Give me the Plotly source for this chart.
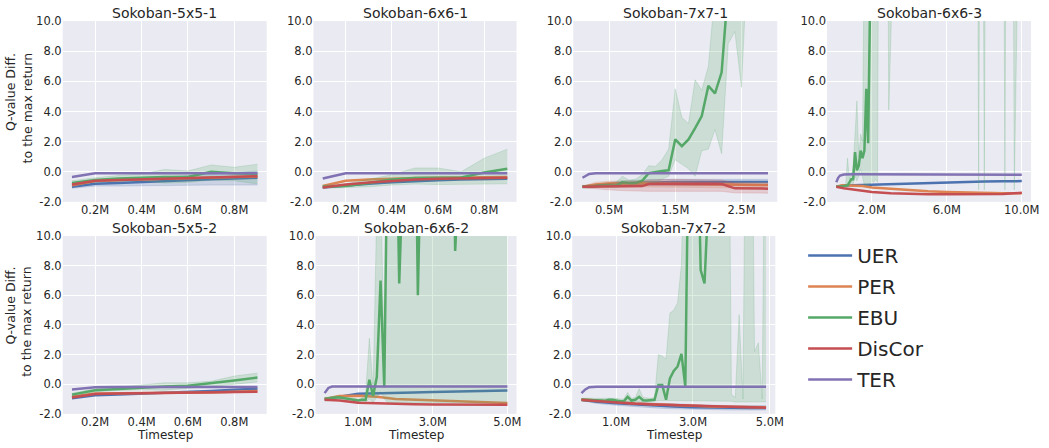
import plotly.graph_objects as go

# ---------------- data (x in millions of timesteps) ----------------
TITLES = ["Sokoban-5x5-1", "Sokoban-6x6-1", "Sokoban-7x7-1", "Sokoban-6x6-3",
          "Sokoban-5x5-2", "Sokoban-6x6-2", "Sokoban-7x7-2"]
SERIES = ["UER", "PER", "EBU", "DisCor", "TER"]

Y_TICKS = [-2, 0, 2, 4, 6, 8, 10]
Y_TICK_LABELS = ["-2.0", "0.0", "2.0", "4.0", "6.0", "8.0", "10.0"]
XT_1M = [0.2, 0.4, 0.6, 0.8]
XT_1M_LABELS = ["0.2M", "0.4M", "0.6M", "0.8M"]
XT_3M = [0.5, 1.5, 2.5]
XT_3M_LABELS = ["0.5M", "1.5M", "2.5M"]
XT_10M = [2, 6, 10]
XT_10M_LABELS = ["2.0M", "6.0M", "10.0M"]
XT_5M = [1, 3, 5]
XT_5M_LABELS = ["1.0M", "3.0M", "5.0M"]

# Sokoban-5x5-1
S1_X = [0.1, 0.2, 0.3, 0.4, 0.5, 0.6, 0.7, 0.8, 0.9]
S1_UER = [-1.0, -0.8, -0.75, -0.68, -0.62, -0.56, -0.5, -0.45, -0.4]
S1_UER_LO = [-1.1, -0.95, -0.95, -0.92, -0.9, -0.9, -0.88, -0.88, -0.88]
S1_UER_HI = [-0.9, -0.65, -0.55, -0.45, -0.35, -0.25, -0.15, -0.05, 0.05]
S1_PER = [-0.9, -0.62, -0.55, -0.5, -0.45, -0.42, -0.38, -0.35, -0.32]
S1_EBU = [-0.75, -0.55, -0.45, -0.38, -0.35, -0.35, 0.0, -0.1, -0.15]
S1_EBU_LO = [-0.9, -0.7, -0.65, -0.6, -0.75, -0.7, -0.55, -0.6, -0.8]
S1_EBU_HI = [-0.6, -0.4, -0.25, -0.15, 0.15, 0.05, 0.45, 0.3, 0.5]
S1_DIS = [-0.85, -0.6, -0.55, -0.5, -0.46, -0.42, -0.38, -0.33, -0.3]
S1_TER = [-0.35, -0.1, -0.1, -0.1, -0.1, -0.1, -0.1, -0.1, -0.1]

# Sokoban-6x6-1
S2_X = [0.1, 0.2, 0.3, 0.4, 0.5, 0.6, 0.7, 0.8, 0.9]
S2_UER = [-1.05, -0.9, -0.8, -0.7, -0.62, -0.56, -0.52, -0.5, -0.46]
S2_PER = [-0.95, -0.6, -0.52, -0.46, -0.42, -0.4, -0.37, -0.36, -0.35]
S2_EBU = [-1.0, -0.95, -0.75, -0.52, -0.42, -0.38, -0.38, -0.05, 0.2]
S2_EBU_LO = [-1.1, -1.05, -1.0, -0.88, -0.82, -0.85, -0.85, -0.82, -0.8]
S2_EBU_HI = [-0.9, -0.82, -0.5, -0.2, 0.25, 0.25, 0.0, 0.9, 1.5]
S2_DIS = [-1.05, -0.85, -0.72, -0.6, -0.52, -0.47, -0.45, -0.44, -0.4]
S2_TER = [-0.45, -0.1, -0.1, -0.1, -0.1, -0.1, -0.1, -0.1, -0.1]

# Sokoban-7x7-1
S3_XC = [0.1, 0.2, 0.3, 0.5, 0.7, 1.0, 1.1, 1.5, 2.0, 2.2, 2.3, 2.4, 2.9]
S3_UER = [-1.0, -0.95, -0.9, -0.82, -0.76, -0.72, -0.7, -0.68, -0.68, -0.68, -0.68, -0.68, -0.68]
S3_UER_LO = [-1.05, -1.05, -1.0, -0.95, -0.9, -0.9, -0.9, -0.9, -0.9, -0.9, -0.9, -0.9, -0.92]
S3_UER_HI = [-0.95, -0.85, -0.8, -0.7, -0.6, -0.55, -0.52, -0.5, -0.5, -0.5, -0.5, -0.5, -0.5]
S3_PER = [-1.0, -0.92, -0.85, -0.78, -0.76, -0.76, -0.78, -0.8, -0.82, -0.84, -0.86, -0.88, -0.88]
S3_PER_LO = [-1.05, -1.1, -1.05, -1.0, -1.0, -1.0, -1.0, -1.02, -1.05, -1.06, -1.08, -1.1, -1.1]
S3_PER_HI = [-0.95, -0.8, -0.7, -0.62, -0.6, -0.6, -0.62, -0.64, -0.66, -0.68, -0.7, -0.72, -0.72]
S3_DIS = [-1.0, -1.0, -0.99, -0.98, -0.97, -0.95, -0.82, -0.8, -0.8, -0.82, -0.95, -1.1, -1.12]
S3_DIS_LO = [-1.05, -1.1, -1.15, -1.2, -1.25, -1.3, -1.3, -1.3, -1.3, -1.3, -1.35, -1.4, -1.42]
S3_DIS_HI = [-0.95, -0.9, -0.85, -0.75, -0.7, -0.65, -0.55, -0.5, -0.5, -0.55, -0.65, -0.8, -0.85]
S3_TER = [-0.4, -0.15, -0.1, -0.1, -0.1, -0.1, -0.1, -0.1, -0.1, -0.1, -0.1, -0.1, -0.1]
S3_EBU_X = [0.1, 0.2, 0.3, 0.4, 0.5, 0.6, 0.7, 0.8, 0.9, 1.0,
            1.1, 1.2, 1.3, 1.4, 1.5, 1.6, 1.7, 1.8, 1.9, 2.0,
            2.1, 2.2, 2.3, 2.4, 2.5, 2.6, 2.7, 2.8, 2.9]
S3_EBU = [-1.0, -1.0, -0.95, -0.9, -0.9, -0.92, -0.7, -0.75, -0.75, -0.6,
          -0.1, 0.0, 0.05, 0.1, 2.15, 1.7, 2.15, 2.9, 3.7, 5.7,
          5.2, 6.6, 14.0, 18.0, 20.0, 22.0, 24.0, 25.0, 26.0]
S3_EBU_LO = [-1.1, -1.1, -1.05, -1.0, -1.05, -1.05, -1.0, -0.95, -0.95, -1.0,
             -0.8, -0.7, -0.5, -0.3, 0.8, 0.5, 0.2, -0.3, 1.4, 1.5,
             2.8, 1.2, 8.5, 9.3, 5.6, 15.0, 20.0, 20.0, 20.0]
S3_EBU_HI = [-0.9, -0.9, -0.85, -0.8, -0.75, -0.75, -0.3, -0.55, -0.5, -0.2,
             0.4, 0.35, 0.8, 1.5, 5.5, 3.6, 3.2, 6.1, 5.4, 7.0,
             12.0, 15.0, 20.0, 25.0, 30.0, 30.0, 30.0, 30.0, 30.0]

# Sokoban-6x6-3
S4_XC = [0.1, 0.2, 0.3, 0.4, 0.5, 1.0, 1.5, 2.0, 3.0, 4.0, 5.0, 6.0, 7.0, 8.0, 9.0, 10.0]
S4_TER = [-0.7, -0.4, -0.25, -0.2, -0.18, -0.17, -0.17, -0.17, -0.18, -0.18, -0.18, -0.19, -0.2, -0.2, -0.2, -0.2]
S4_UER = [-1.0, -0.97, -0.95, -0.93, -0.92, -0.9, -0.88, -0.85, -0.8, -0.76, -0.72, -0.69, -0.67, -0.65, -0.63, -0.62]
S4_PER = [-1.0, -0.95, -0.92, -0.9, -0.9, -0.9, -0.95, -1.05, -1.15, -1.25, -1.3, -1.35, -1.38, -1.4, -1.42, -1.42]
S4_DIS = [-1.0, -1.03, -1.06, -1.09, -1.1, -1.18, -1.28, -1.35, -1.42, -1.47, -1.5, -1.5, -1.5, -1.5, -1.48, -1.4]
S4_EBU_X = [0.1, 0.2, 0.3, 0.4, 0.5, 0.6, 0.7, 0.8, 0.9, 1.0,
            1.1, 1.2, 1.3, 1.4, 1.5, 1.6, 1.7, 1.8, 1.9, 2.0,
            2.5, 3.0, 6.0, 10.0]
S4_EBU = [-1.0, -1.0, -1.0, -0.95, -0.95, -0.92, -0.9, -0.7, -0.5, -0.5,
          1.3, 0.1, 0.4, 1.4, 0.9, 1.4, 5.5, 1.9, 12.0, 20.0,
          25.0, 25.0, 25.0, 25.0]
S4_BAND_X = [0.1, 0.2, 0.3, 0.4, 0.5, 0.6, 0.7, 0.8, 0.9, 1.0,
             1.1, 1.2, 1.3, 1.4, 1.5, 1.6, 1.7, 1.8, 1.9, 2.0,
             2.1, 2.2, 2.3, 2.4, 2.5, 2.6, 2.7, 2.8, 2.9, 3.0,
             3.5, 7.6, 7.7, 7.8, 7.9, 8.0, 8.1, 9.0, 9.1, 9.2, 9.5, 9.6, 9.7, 10.0]
S4_EBU_LO = [-1.05, -1.05, -1.05, -1.0, -1.0, -1.0, -1.0, -0.9, -0.75, -0.8,
             -0.3, -0.6, -0.3, 0.2, -0.3, -0.9, -0.9, -0.85, -0.8, -0.6,
             -0.7, -0.5, -0.7, 30.0, 30.0, 30.0, 30.0, 30.0, 4.1, 30.0,
             30.0, 30.0, -1.2, 30.0, 30.0, -1.2, 30.0, 30.0, -1.2, 30.0, 30.0, -1.2, 30.0, 30.0]
S4_EBU_HI = [-0.95, -0.95, -0.95, -0.9, -0.9, -0.88, 0.9, -0.5, -0.2, 0.2,
             2.5, 4.7, 1.0, 2.5, 2.0, 15.0, 30.0, 30.0, 30.0, 30.0,
             30.0, 30.0, 30.0, 30.0, 30.0, 30.0, 30.0, 30.0, 30.0, 30.0,
             30.0, 30.0, 30.0, 30.0, 30.0, 30.0, 30.0, 30.0, 30.0, 30.0, 30.0, 30.0, 30.0, 30.0]

# Sokoban-5x5-2
S5_X = [0.1, 0.2, 0.3, 0.4, 0.5, 0.6, 0.7, 0.8, 0.9]
S5_UER = [-0.95, -0.75, -0.7, -0.65, -0.6, -0.55, -0.45, -0.38, -0.3]
S5_PER = [-0.85, -0.62, -0.6, -0.6, -0.6, -0.57, -0.55, -0.5, -0.45]
S5_EBU = [-0.7, -0.4, -0.32, -0.22, -0.15, -0.1, 0.05, 0.25, 0.45]
S5_EBU_LO = [-0.8, -0.5, -0.42, -0.38, -0.4, -0.3, -0.15, 0.0, 0.15]
S5_EBU_HI = [-0.6, -0.3, -0.2, -0.05, 0.1, 0.1, 0.2, 0.55, 0.75]
S5_DIS = [-0.9, -0.66, -0.62, -0.6, -0.6, -0.58, -0.55, -0.52, -0.5]
S5_TER = [-0.35, -0.2, -0.18, -0.18, -0.18, -0.18, -0.18, -0.18, -0.18]

# Sokoban-6x6-2
S6_XC = [0.1, 0.2, 0.3, 0.5, 1.0, 1.5, 2.0, 2.5, 3.0, 3.5, 4.0, 4.5, 5.0]
S6_TER = [-0.6, -0.25, -0.15, -0.15, -0.15, -0.15, -0.15, -0.15, -0.15, -0.15, -0.15, -0.15, -0.15]
S6_UER = [-1.0, -0.97, -0.93, -0.85, -0.65, -0.6, -0.6, -0.55, -0.52, -0.5, -0.47, -0.45, -0.42]
S6_PER = [-1.0, -0.95, -0.9, -0.8, -0.78, -0.85, -1.0, -1.05, -1.1, -1.15, -1.2, -1.23, -1.27]
S6_DIS = [-1.05, -1.06, -1.08, -1.1, -1.25, -1.3, -1.35, -1.35, -1.36, -1.37, -1.38, -1.4, -1.38]
S6_EBU_X = [0.1, 0.2, 0.3, 0.4, 0.5, 0.6, 0.7, 0.8, 0.9, 1.0,
            1.1, 1.2, 1.3, 1.4, 1.5, 1.6, 1.7, 1.8, 1.9, 2.0,
            2.1, 2.2, 2.3, 2.4, 2.5, 2.6, 2.7, 2.8, 2.9, 3.0,
            3.1, 3.2, 3.3, 3.4, 3.5, 3.6, 3.7, 3.8, 3.9, 4.0,
            4.1, 4.2, 4.3, 4.4, 4.5, 4.6, 4.7, 4.8, 4.9, 5.0]
S6_EBU = [-1.0, -0.95, -0.95, -0.9, -0.9, -0.95, -1.0, -1.0, -1.05, -1.1,
          -1.05, -1.05, 0.3, -0.8, 0.5, 7.0, -0.2, 20.0, 25.0, 22.0,
          6.8, 25.0, 28.0, 30.0, 26.0, 6.0, 28.0, 30.0, 27.0, 29.0,
          30.0, 28.0, 26.0, 30.0, 27.0, 9.0, 30.0, 28.0, 29.0, 30.0,
          27.0, 30.0, 28.0, 29.0, 26.0, 30.0, 28.0, 27.0, 30.0, 29.0]
S6_EBU_LO = [-1.15, -1.1, -1.1, -1.05, -1.05, -1.1, -1.15, -1.15, -1.2, -1.25,
             -1.2, -1.2, -1.0, -1.2, -0.9, -0.5, -1.0, -1.25, -1.25, -1.25,
             -1.25, -1.25, -1.25, -1.25, -1.25, -1.25, -1.25, -1.25, -1.25, -1.25,
             -1.25, -1.25, -1.25, -1.25, -1.25, -1.25, -1.25, -1.25, -1.25, -1.25,
             -1.25, -1.25, -1.25, -1.25, -1.25, -1.25, -1.25, -1.25, -1.25, -1.25]
S6_EBU_HI = [-0.9, -0.85, -0.85, -0.8, -0.8, -0.85, -0.9, -0.9, -0.95, -1.0,
             -0.95, -0.6, 3.1, -0.3, 12.0, 14.0, 1.5, 30.0, 30.0, 30.0,
             30.0, 30.0, 30.0, 30.0, 30.0, 30.0, 30.0, 30.0, 30.0, 30.0,
             30.0, 30.0, 30.0, 30.0, 30.0, 30.0, 30.0, 30.0, 30.0, 30.0,
             30.0, 30.0, 30.0, 30.0, 30.0, 30.0, 30.0, 30.0, 30.0, 30.0]

# Sokoban-7x7-2
S7_XC = [0.1, 0.2, 0.3, 0.5, 1.0, 1.5, 2.0, 2.5, 3.0, 3.5, 4.0, 4.5, 4.9]
S7_TER = [-0.6, -0.35, -0.2, -0.17, -0.17, -0.17, -0.17, -0.17, -0.17, -0.17, -0.17, -0.17, -0.17]
S7_UER = [-1.05, -1.08, -1.12, -1.18, -1.28, -1.37, -1.44, -1.5, -1.55, -1.58, -1.6, -1.6, -1.6]
S7_UER_LO = [-1.1, -1.15, -1.2, -1.3, -1.42, -1.52, -1.6, -1.66, -1.7, -1.72, -1.74, -1.74, -1.74]
S7_UER_HI = [-1.0, -1.02, -1.05, -1.08, -1.15, -1.22, -1.28, -1.33, -1.38, -1.42, -1.44, -1.44, -1.44]
S7_PER = [-1.02, -1.04, -1.07, -1.12, -1.22, -1.3, -1.35, -1.41, -1.46, -1.5, -1.52, -1.54, -1.55]
S7_DIS = [-1.06, -1.08, -1.1, -1.14, -1.24, -1.31, -1.37, -1.42, -1.47, -1.5, -1.52, -1.55, -1.58]
S7_EBU_X = [0.1, 0.2, 0.3, 0.4, 0.5, 0.6, 0.7, 0.8, 0.9, 1.0,
            1.1, 1.2, 1.3, 1.4, 1.5, 1.6, 1.7, 1.8, 1.9, 2.0,
            2.1, 2.2, 2.3, 2.4, 2.5, 2.6, 2.7, 2.8, 2.9, 3.0,
            3.1, 3.2, 3.3, 3.4, 3.5, 3.6, 3.7, 3.8, 3.9, 4.0,
            4.1, 4.2, 4.3, 4.4, 4.5, 4.6, 4.7, 4.8, 4.9]
S7_EBU = [-1.05, -1.05, -1.08, -1.1, -1.1, -1.1, -1.12, -1.05, -1.05, -1.12,
          -1.15, -1.15, -0.85, -1.1, -1.05, -0.85, -1.08, -1.1, -1.1, -1.05,
          -0.05, -0.05, -1.05, 0.4, 0.9, 1.2, 2.05, -0.15, 20.0, 25.0,
          20.0, 7.7, 6.8, 20.0, 26.0, 28.0, 30.0, 27.0, 29.0, 30.0,
          28.0, 30.0, 27.0, 29.0, 30.0, 28.0, 26.0, 30.0, 29.0]
S7_EBU_LO = [-1.15, -1.15, -1.18, -1.2, -1.2, -1.2, -1.22, -1.15, -1.15, -1.22,
             -1.25, -1.25, -1.15, -1.2, -1.2, -1.2, -1.18, -1.2, -1.2, -1.15,
             -1.1, -1.1, -1.15, -1.15, -1.15, -1.15, -1.15, -1.15, -1.15, -1.15,
             -1.15, -1.15, -1.15, -1.15, -1.15, -1.15, -1.15, -1.15, -1.15, -1.15,
             -1.2, -1.2, -1.2, -1.2, -1.2, -1.2, -1.2, -1.2, -1.2]
S7_EBU_HI = [-0.95, -0.95, -0.95, -0.95, -0.95, -0.95, -0.95, -0.9, -0.9, -0.95,
             -1.0, -1.0, -0.55, -0.95, -0.9, -0.3, -0.9, -0.95, -0.95, -0.9,
             2.0, 1.9, 1.7, 4.8, 5.0, 5.5, 8.1, 20.0, 30.0, 30.0,
             30.0, 30.0, 30.0, 30.0, 30.0, 30.0, 30.0, 30.0, 30.0, -0.7,
             -0.9, 4.7, -1.0, 30.0, 30.0, 2.2, 2.8, -1.0, 30.0]

# ---------------- styling ----------------
COLORS = {"UER": "#4C72B0", "PER": "#DD8452", "EBU": "#55A868", "DisCor": "#C44E52", "TER": "#8172B3"}
W, H = 1049, 448
TEXT = "#262626"
FONT = "DejaVu Sans"

# The photographed page shows the plotting paper inside x 2..1047 and y 8..440,
# so target positions (in picture pixels) are converted through that box.
PAPER_X0, PAPER_W = 2.0, 1045.0
PAPER_Y0, PAPER_H = 8.0, 432.0


def px(x_pix):
    return (x_pix - PAPER_X0) / PAPER_W


def py(y_pix):
    return 1 - (y_pix - PAPER_Y0) / PAPER_H


# panel boxes in picture pixels: (left, right, top, bottom)
BOXES = [(65, 270, 22, 202), (317, 521, 22, 202), (578, 783, 22, 202), (833, 1038, 22, 202),
         (65, 270, 236, 413), (319, 521, 236, 413), (577, 781, 236, 413)]


def rgba(hex_color, a):
    h = hex_color.lstrip("#")
    return "rgba(%d,%d,%d,%.2f)" % (int(h[0:2], 16), int(h[2:4], 16), int(h[4:6], 16), a)


fig = go.Figure()


def axref(i):
    return ("x" if i == 1 else "x%d" % i), ("y" if i == 1 else "y%d" % i)


def add_band(i, name, x, lo, hi):
    xa, ya = axref(i)
    c = rgba(COLORS[name], 0.2)
    fig.add_trace(go.Scatter(x=x, y=lo, mode="lines", line=dict(color=c, width=1),
                             xaxis=xa, yaxis=ya, showlegend=False, hoverinfo="skip"))
    fig.add_trace(go.Scatter(x=x, y=hi, mode="lines", line=dict(color=c, width=1),
                             fill="tonexty", fillcolor=c,
                             xaxis=xa, yaxis=ya, showlegend=False, hoverinfo="skip"))


def add_line(i, name, x, y):
    xa, ya = axref(i)
    fig.add_trace(go.Scatter(x=x, y=y, mode="lines", name=name, legendgroup=name,
                             line=dict(color=COLORS[name], width=2.5),
                             xaxis=xa, yaxis=ya, showlegend=(i == 1)))


# panel 1
add_band(1, "UER", S1_X, S1_UER_LO, S1_UER_HI); add_line(1, "UER", S1_X, S1_UER)
add_line(1, "PER", S1_X, S1_PER)
add_band(1, "EBU", S1_X, S1_EBU_LO, S1_EBU_HI); add_line(1, "EBU", S1_X, S1_EBU)
add_line(1, "DisCor", S1_X, S1_DIS)
add_line(1, "TER", S1_X, S1_TER)
# panel 2
add_line(2, "UER", S2_X, S2_UER)
add_line(2, "PER", S2_X, S2_PER)
add_band(2, "EBU", S2_X, S2_EBU_LO, S2_EBU_HI); add_line(2, "EBU", S2_X, S2_EBU)
add_line(2, "DisCor", S2_X, S2_DIS)
add_line(2, "TER", S2_X, S2_TER)
# panel 3
add_band(3, "UER", S3_XC, S3_UER_LO, S3_UER_HI); add_line(3, "UER", S3_XC, S3_UER)
add_band(3, "PER", S3_XC, S3_PER_LO, S3_PER_HI); add_line(3, "PER", S3_XC, S3_PER)
add_band(3, "EBU", S3_EBU_X, S3_EBU_LO, S3_EBU_HI); add_line(3, "EBU", S3_EBU_X, S3_EBU)
add_band(3, "DisCor", S3_XC, S3_DIS_LO, S3_DIS_HI); add_line(3, "DisCor", S3_XC, S3_DIS)
add_line(3, "TER", S3_XC, S3_TER)
# panel 4
add_line(4, "UER", S4_XC, S4_UER)
add_line(4, "PER", S4_XC, S4_PER)
add_band(4, "EBU", S4_BAND_X, S4_EBU_LO, S4_EBU_HI); add_line(4, "EBU", S4_EBU_X, S4_EBU)
add_line(4, "DisCor", S4_XC, S4_DIS)
add_line(4, "TER", S4_XC, S4_TER)
# panel 5
add_line(5, "UER", S5_X, S5_UER)
add_line(5, "PER", S5_X, S5_PER)
add_band(5, "EBU", S5_X, S5_EBU_LO, S5_EBU_HI); add_line(5, "EBU", S5_X, S5_EBU)
add_line(5, "DisCor", S5_X, S5_DIS)
add_line(5, "TER", S5_X, S5_TER)
# panel 6
add_line(6, "UER", S6_XC, S6_UER)
add_line(6, "PER", S6_XC, S6_PER)
add_band(6, "EBU", S6_EBU_X, S6_EBU_LO, S6_EBU_HI); add_line(6, "EBU", S6_EBU_X, S6_EBU)
add_line(6, "DisCor", S6_XC, S6_DIS)
add_line(6, "TER", S6_XC, S6_TER)
# panel 7
add_band(7, "UER", S7_XC, S7_UER_LO, S7_UER_HI); add_line(7, "UER", S7_XC, S7_UER)
add_line(7, "PER", S7_XC, S7_PER)
add_band(7, "EBU", S7_EBU_X, S7_EBU_LO, S7_EBU_HI); add_line(7, "EBU", S7_EBU_X, S7_EBU)
add_line(7, "DisCor", S7_XC, S7_DIS)
add_line(7, "TER", S7_XC, S7_TER)

X_SPANS = [S1_X, S2_X, S3_XC, S4_XC, S5_X, S6_XC, S7_XC]
X_TICKS = [(XT_1M, XT_1M_LABELS), (XT_1M, XT_1M_LABELS), (XT_3M, XT_3M_LABELS), (XT_10M, XT_10M_LABELS),
           (XT_1M, XT_1M_LABELS), (XT_5M, XT_5M_LABELS), (XT_5M, XT_5M_LABELS)]

layout = {}
annotations = []
for k in range(7):
    i = k + 1
    l, r, t, b = BOXES[k]
    xs = X_SPANS[k]
    lo, hi = min(xs), max(xs)
    pad = 0.05 * (hi - lo)
    xname = "xaxis" if i == 1 else "xaxis%d" % i
    yname = "yaxis" if i == 1 else "yaxis%d" % i
    xa, ya = axref(i)
    tv, tt = X_TICKS[k]
    common = dict(showgrid=True, gridcolor="white", gridwidth=1.2, zeroline=False, showline=False,
                  ticks="", tickfont=dict(size=11.5, color=TEXT, family=FONT))
    layout[xname] = dict(domain=[px(l), px(r)], range=[lo - pad, hi + pad], anchor=ya,
                         tickvals=tv, ticktext=tt, **common)
    layout[yname] = dict(domain=[py(b), py(t)], range=[-2, 10], anchor=xa,
                         tickvals=Y_TICKS, ticktext=Y_TICK_LABELS, **common)
    annotations.append(dict(text=TITLES[k], x=px((l + r) / 2), y=py(t - 8), xref="paper", yref="paper",
                            xanchor="center", yanchor="middle", showarrow=False,
                            font=dict(size=14, color=TEXT, family=FONT)))
    if k >= 4:
        annotations.append(dict(text="Timestep", x=px((l + r) / 2), y=py(434.5), xref="paper", yref="paper",
                                xanchor="center", yanchor="middle", showarrow=False,
                                font=dict(size=12, color=TEXT, family=FONT)))
    if k in (0, 4):
        annotations.append(dict(text="Q-value Diff.<br>to the max return", x=px(21), y=py((t + b) / 2 - 3),
                                xref="paper", yref="paper", xanchor="center", yanchor="middle",
                                textangle=-90, align="right", showarrow=False,
                                font=dict(size=12.5, color=TEXT, family=FONT)))

fig.update_layout(
    width=W, height=H, margin=dict(l=0, r=0, t=0, b=0),
    paper_bgcolor="white", plot_bgcolor="#EAEAF2",
    font=dict(family=FONT, color=TEXT),
    annotations=annotations,
    showlegend=True,
    legend=dict(x=px(809), y=py(236), xanchor="left", yanchor="top",
                font=dict(size=20, color=TEXT, family=FONT), bgcolor="rgba(0,0,0,0)",
                tracegroupgap=2, itemwidth=44),
    **layout,
)

fig.write_html("out.html")
